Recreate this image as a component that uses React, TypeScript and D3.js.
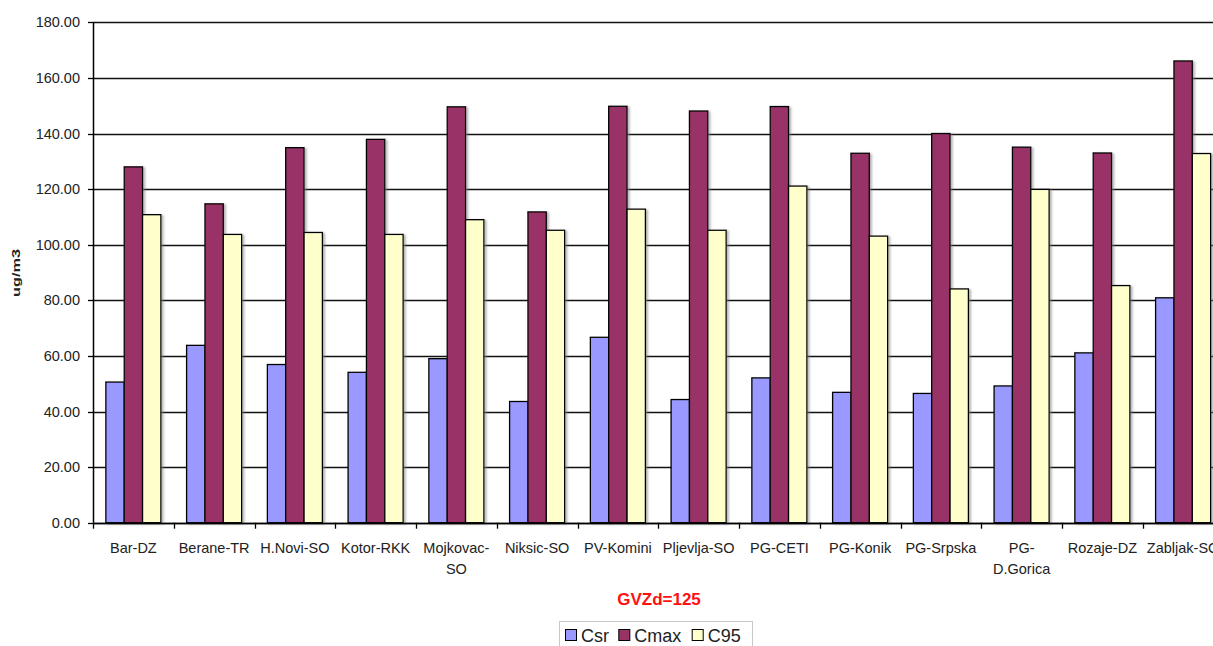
import React from "react";
import * as d3 from "d3";

// Measuring stations (label lines) and the three concentration series, ug/m3
const categories = [
  "Bar-DZ", "Berane-TR", "H.Novi-SO", "Kotor-RKK", "Mojkovac-SO", "Niksic-SO", "PV-Komini",
  "Pljevlja-SO", "PG-CETI", "PG-Konik", "PG-Srpska", "PG-D.Gorica", "Rozaje-DZ", "Zabljak-SO",
];
const categoryLines: string[][] = [
  ["Bar-DZ"], ["Berane-TR"], ["H.Novi-SO"], ["Kotor-RKK"], ["Mojkovac-", "SO"], ["Niksic-SO"],
  ["PV-Komini"], ["Pljevlja-SO"], ["PG-CETI"], ["PG-Konik"], ["PG-Srpska"], ["PG-", "D.Gorica"],
  ["Rozaje-DZ"], ["Zabljak-SO"],
];
const seriesNames = ["Csr", "Cmax", "C95"];
const csr = [50.6, 63.8, 56.9, 54.1, 59.0, 43.6, 66.7, 44.3, 52.1, 46.9, 46.5, 49.2, 61.1, 80.9];
const cmax = [128.0, 114.7, 134.9, 137.9, 149.6, 111.8, 149.8, 148.1, 149.7, 132.9, 140.0, 135.1, 133.0, 166.1];
const c95 = [110.8, 103.7, 104.4, 103.7, 109.0, 105.2, 112.8, 105.2, 121.1, 103.1, 84.1, 119.9, 85.3, 132.8];
const yTicks = [0, 20, 40, 60, 80, 100, 120, 140, 160, 180];
const yTitle = "ug/m3";
const subtitle = "GVZd=125";

const seriesValues = [csr, cmax, c95];
const colors = ["#9999FF", "#993366", "#FFFFCC"];

const W = 1213;
const H = 646;
const plot = { left: 93, right: 1223.5, top: 22.3, bottom: 522.7 };
const FONT = "Arial, 'Liberation Sans', sans-serif";

export default function App() {
  const x0 = d3.scaleBand<string>().domain(categories).range([plot.left, plot.right]).padding(0);
  const x1 = d3
    .scaleBand<string>()
    .domain(seriesNames)
    .range([0, x0.bandwidth()])
    .paddingInner(0)
    .paddingOuter(0.7);
  const y = d3.scaleLinear().domain([0, 180]).range([plot.bottom, plot.top]);
  const fmt = d3.format(".2f");
  const step = x0.step();

  return (
    <svg
      width={W}
      height={H}
      style={{ position: "fixed", left: 0, top: 0, background: "#fff" }}
      fontFamily={FONT}
    >
      <defs>
        <filter id="barShadow" x="-20%" y="-5%" width="150%" height="115%">
          <feDropShadow dx="2" dy="1" stdDeviation="0.8" floodColor="#7a7a7a" floodOpacity="0.55" />
        </filter>
      </defs>
      <rect width={W} height={H} fill="#fff" />

      {/* horizontal gridlines */}
      {yTicks.map((t) => (
        <line
          key={"g" + t}
          x1={plot.left}
          x2={plot.right}
          y1={Math.round(y(t)) + 0.5}
          y2={Math.round(y(t)) + 0.5}
          stroke="#111"
          strokeWidth={1.4}
        />
      ))}

      {/* bars */}
      {categories.map((c, i) => (
        <g key={c} transform={`translate(${x0(c)},0)`}>
          {seriesNames.map((s, k) => {
            const v = seriesValues[k][i];
            return (
              <rect
                key={s}
                x={x1(s)}
                y={y(v)}
                width={x1.bandwidth()}
                height={y(0) - y(v)}
                fill={colors[k]}
                stroke="#000"
                strokeWidth={1.3}
                filter="url(#barShadow)"
              />
            );
          })}
        </g>
      ))}

      {/* axes */}
      <line x1={plot.left + 0.5} x2={plot.left + 0.5} y1={plot.top} y2={plot.bottom} stroke="#000" strokeWidth={1.5} />
      <line x1={plot.left} x2={plot.right} y1={Math.round(plot.bottom) + 0.5} y2={Math.round(plot.bottom) + 0.5} stroke="#000" strokeWidth={1.5} />
      {yTicks.map((t) => (
        <g key={"t" + t}>
          <line x1={plot.left - 5} x2={plot.left} y1={Math.round(y(t)) + 0.5} y2={Math.round(y(t)) + 0.5} stroke="#000" strokeWidth={1.3} />
          <text x={80} y={y(t) + 5} textAnchor="end" fontSize={14.5} fill="#222">
            {fmt(t)}
          </text>
        </g>
      ))}
      {d3.range(categories.length + 1).map((i) => {
        const xx = Math.round(plot.left + i * step) + 0.5;
        return <line key={"xt" + i} x1={xx} x2={xx} y1={plot.bottom} y2={plot.bottom + 6} stroke="#000" strokeWidth={1.3} />;
      })}
      {categories.map((c, i) => (
        <text key={"xl" + c} x={(x0(c) as number) + step / 2} y={553} textAnchor="middle" fontSize={14.5} fill="#222">
          {categoryLines[i].map((ln, j) => (
            <tspan key={j} x={(x0(c) as number) + step / 2} dy={j === 0 ? 0 : 20.7}>
              {ln}
            </tspan>
          ))}
        </text>
      ))}

      {/* y axis title */}
      <text
        transform="translate(20,273) rotate(-90)"
        textAnchor="middle"
        fontSize={11}
        fontWeight="bold"
        fill="#222"
        textLength={48}
        lengthAdjust="spacingAndGlyphs"
      >
        {yTitle}
      </text>

      {/* subtitle */}
      <text x={659} y={605} textAnchor="middle" fontSize={17} fontWeight="bold" fill="#FF1010">
        {subtitle}
      </text>

      {/* legend */}
      <rect x={559.5} y={621.5} width={193} height={30} fill="#fff" stroke="#c8c8c8" strokeWidth={1} />
      {seriesNames.map((s, k) => {
        const sx = [565, 618.3, 691.7][k];
        return (
          <g key={"lg" + s}>
            <rect x={sx + 0.5} y={629.5} width={11} height={11} fill={colors[k]} stroke="#000" strokeWidth={1} />
            <text x={sx + 16} y={642} fontSize={18} fill="#222">
              {s}
            </text>
          </g>
        );
      })}
    </svg>
  );
}
